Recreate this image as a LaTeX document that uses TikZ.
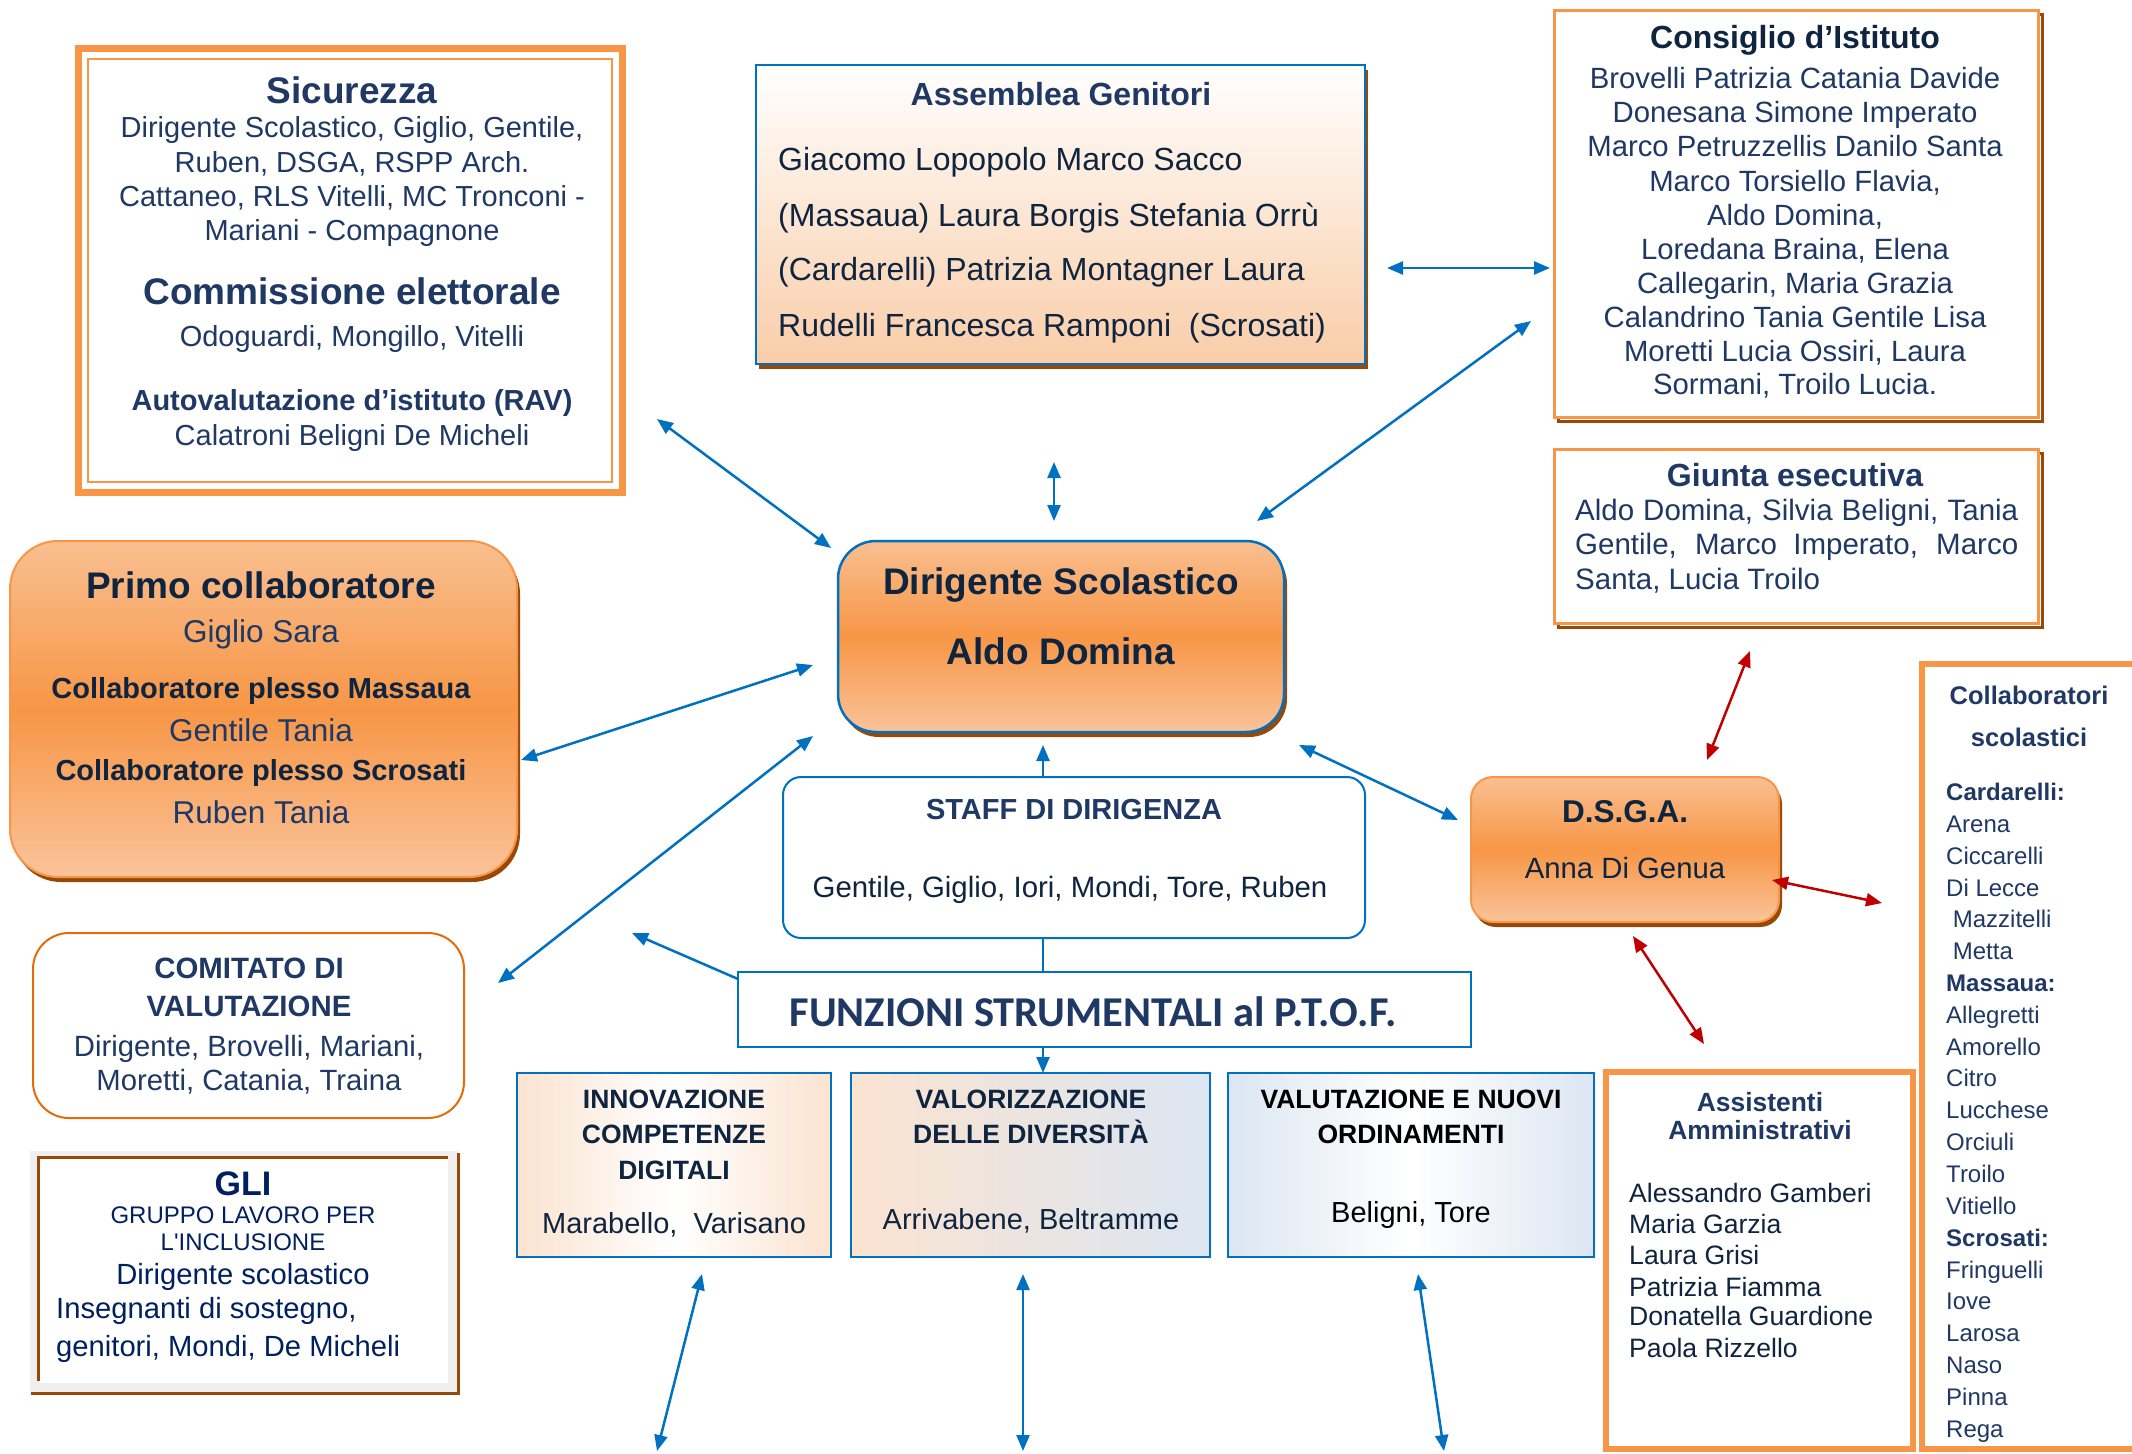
\documentclass[tikz,border=0pt]{standalone}
\usepackage{fontspec}
\setmainfont{Liberation Sans}
\newfontfamily\carl{Carlito}
\usetikzlibrary{arrows.meta,shadows,fit}
\definecolor{navy}{HTML}{1F3864}
\definecolor{navyd}{HTML}{0F243E}
\definecolor{glic}{HTML}{002060}
\definecolor{orA}{HTML}{F79646}
\definecolor{orB}{HTML}{E36C09}
\definecolor{pkA}{HTML}{F9BF90}
\definecolor{pkB}{HTML}{FAC39A}
\definecolor{pkC}{HTML}{F9CDA8}
\definecolor{pkD}{HTML}{FBE3D0}
\definecolor{lbl}{HTML}{DCE6F2}
\definecolor{brwn}{HTML}{984807}
\definecolor{blu}{HTML}{0070C0}
\definecolor{rd}{HTML}{C00000}
\definecolor{gryf}{HTML}{EFEFEF}
\newcommand\fs[1]{\fontsize{#1}{#1}\selectfont}
\newcommand\lines[4]{\foreach \yy/\tx [count=\i] in {#4} {\node[#2] (#1\i) at (#3,\yy) {\tx};}}
\tikzset{
  bx/.style={inner sep=0pt, outer sep=0pt},
  tc/.style={text=navy, inner sep=0pt, anchor=base},
  tw/.style={text=navy, inner sep=0pt, anchor=base west},
  orgrad/.style={top color=pkA, bottom color=pkB, middle color=orA},
  bshadow/.style={general shadow={fill=brwn, shadow xshift=3pt, shadow yshift=-5pt}},
  tip/.tip={Triangle[length=16pt,width=13pt]},
  arr/.style={draw=blu, line width=2.5pt, tip-tip},
  arrone/.style={draw=blu, line width=2.5pt, -tip},
  rarr/.style={draw=rd, line width=2.5pt, tip-tip},
}
\begin{document}
\begin{tikzpicture}[x=1pt,y=-1pt]
\useasboundingbox[fill=white] (0,0) rectangle (2132,1453);

% ---------- Sicurezza ----------
\node[bx, draw=orA, line width=7pt, fit={(78,49)(622,492)}] (sico) {};
\node[bx, draw=orA, line width=2pt, fit={(88,59)(612,482)}] (sic) {};
\node[tc, font=\bfseries\fs{37}] (sicT) at (352,103) {Sicurezza};
\lines{sicL}{tc, font=\fs{29}}{352}{138/{Dirigente Scolastico, Giglio, Gentile,}, 172/{Ruben, DSGA, RSPP Arch.}, 206/{Cattaneo, RLS Vitelli, MC Tronconi -}, 240/{Mariani - Compagnone}}
\node[tc, font=\bfseries\fs{37}] (comT) at (352,304) {Commissione elettorale};
\node[tc, font=\fs{29}] (comL) at (352,346) {Odoguardi, Mongillo, Vitelli};
\node[tc, font=\bfseries\fs{29}] (ravT) at (352,410) {Autovalutazione d’istituto (RAV)};
\node[tc, font=\fs{29}] (ravL) at (352,445) {Calatroni Beligni De Micheli};

% ---------- Assemblea Genitori ----------
\node[bx, draw=blu, line width=2.5pt, top color=white, bottom color=pkC, bshadow, fit={(756,65)(1365,364)}] (ass) {};
\node[tc, font=\bfseries\fs{32}] (assT) at (1061,106) {Assemblea Genitori};
\lines{assL}{tw, font=\fs{32}, text=navyd}{778}{170/{Giacomo Lopopolo Marco Sacco}, 226/{(Massaua) Laura Borgis Stefania Orrù}, 280/{(Cardarelli) Patrizia Montagner Laura}, 336/{Rudelli Francesca Ramponi\ \ (Scrosati)}}

% ---------- Consiglio d'Istituto ----------
\node[bx, draw=brwn, line width=3pt, fit={(1558,15)(2042,421)}] (consS) {};
\node[bx, draw=orA, line width=3pt, fill=white, fit={(1554,11)(2038,417)}] (cons) {};
\node[tc, font=\bfseries\fs{32}, text=navyd] (consT) at (1795,49) {Consiglio d’Istituto};
\lines{consL}{tc, font=\fs{29.3}}{1795}{89/{Brovelli Patrizia Catania Davide}, 123/{Donesana Simone Imperato}, 157/{Marco Petruzzellis Danilo Santa}, 191/{Marco Torsiello Flavia,}, 225/{Aldo Domina,}, 259/{Loredana Braina, Elena}, 293/{Callegarin, Maria Grazia}, 327/{Calandrino Tania Gentile Lisa}, 361/{Moretti Lucia Ossiri, Laura}, 394/{Sormani, Troilo Lucia.}}

% ---------- Giunta esecutiva ----------
\node[bx, draw=brwn, line width=3pt, fit={(1558,453)(2042,627)}] (giuS) {};
\node[bx, draw=orA, line width=3pt, fill=white, fit={(1554,449)(2038,623)}] (giu) {};
\node[tc, font=\bfseries\fs{32}] (giuT) at (1795,486) {Giunta esecutiva};
\node[tw, font=\fs{29.5}] (giu1) at (1575,520) {\makebox[443pt][s]{Aldo Domina, Silvia Beligni, Tania}};
\node[tw, font=\fs{29.5}] (giu2) at (1575,554) {\makebox[443pt][s]{Gentile, Marco Imperato, Marco}};
\node[tw, font=\fs{29.5}] (giu3) at (1575,589) {Santa, Lucia Troilo};

% ---------- Primo collaboratore ----------
\node[bx, draw=orA, line width=2pt, rounded corners=48pt, orgrad, bshadow, fit={(10,541)(517,877)}] (primo) {};
\node[tc, font=\bfseries\fs{37}, text=navyd] (primoT) at (261,598) {Primo collaboratore};
\node[tc, font=\fs{31.5}] (primo1) at (261,642) {Giglio Sara};
\node[tc, font=\bfseries\fs{29}, text=navyd] (primo2) at (261,698) {Collaboratore plesso Massaua};
\node[tc, font=\fs{31.5}] (primo3) at (261,741) {Gentile Tania};
\node[tc, font=\bfseries\fs{29}, text=navyd] (primo4) at (261,780) {Collaboratore plesso Scrosati};
\node[tc, font=\fs{31.5}] (primo5) at (261,823) {Ruben Tania};

% ---------- Dirigente ----------
\node[bx, draw=blu, line width=2.5pt, rounded corners=38pt, orgrad, bshadow, fit={(838,541)(1284,732)}] (dir) {};
\node[tc, font=\bfseries\fs{37}, text=navyd] (dirT) at (1061,594) {Dirigente Scolastico};
\node[tc, font=\bfseries\fs{37}, text=navyd] (dirN) at (1061,664) {Aldo Domina};

% ---------- Staff ----------
\node[bx, draw=blu, line width=2pt, rounded corners=18pt, fill=white, fit={(783,777)(1365,938)}] (staff) {};
\node[tc, font=\bfseries\fs{29}] (staffT) at (1074,819) {STAFF DI DIRIGENZA};
\node[tc, font=\fs{29.4}, text=navyd] (staffN) at (1070,897) {Gentile, Giglio, Iori, Mondi, Tore, Ruben};

% ---------- Funzioni ----------
\node[bx, draw=blu, line width=2pt, fill=white, fit={(738,972)(1471,1047)}] (fun) {};
\node[tc, font=\carl\bfseries\fs{42.5}] (funT) at (1093,1026) {FUNZIONI STRUMENTALI al P.T.O.F.};

% ---------- three FS boxes ----------
\node[bx, draw=blu, line width=2.5pt, left color=pkD, right color=pkD, middle color=white, fit={(517,1073)(831,1257)}] (fsA) {};
\lines{fsAL}{tc, font=\bfseries\fs{26.5}, text=navyd}{674}{1108/{INNOVAZIONE}, 1143/{COMPETENZE}, 1179/{DIGITALI}}
\node[tc, font=\fs{29}, text=navyd] (fsAN) at (674,1233) {Marabello,\ \ Varisano};

\node[bx, draw=blu, line width=2.5pt, left color=pkD, right color=lbl, fit={(851,1073)(1210,1257)}] (fsB) {};
\lines{fsBL}{tc, font=\bfseries\fs{26.5}, text=navyd}{1031}{1108/{VALORIZZAZIONE}, 1143/{DELLE DIVERSITÀ}}
\node[tc, font=\fs{29}, text=navyd] (fsBN) at (1031,1229) {Arrivabene, Beltramme};

\node[bx, draw=blu, line width=2.5pt, left color=lbl, right color=lbl, middle color=white, fit={(1228,1073)(1594,1257)}] (fsC) {};
\lines{fsCL}{tc, font=\bfseries\fs{26.5}, text=black}{1411}{1108/{VALUTAZIONE E NUOVI}, 1143/{ORDINAMENTI}}
\node[tc, font=\fs{29}, text=black] (fsCN) at (1411,1222) {Beligni, Tore};

% ---------- Comitato ----------
\node[bx, draw=orB, line width=2pt, rounded corners=36pt, fill=white, fit={(33,933)(464,1118)}] (comi) {};
\lines{comiT}{tc, font=\bfseries\fs{29.4}}{249}{978/{COMITATO DI}, 1016/{VALUTAZIONE}}
\lines{comiL}{tc, font=\fs{29.3}}{249}{1056/{Dirigente, Brovelli, Mariani,}, 1090/{Moretti, Catania, Traina}}

% ---------- GLI ----------
\node[bx, fill=gryf, fit={(30,1151)(458,1394)}] (gliF) {};
\node[bx, fill=white, fit={(40,1159)(448,1383)}] (gli) {};
\draw[brwn, line width=3pt] (38,1381) |- (448,1157);
\draw[brwn, line width=3pt] (458,1153) |- (31,1393);
\node[tc, font=\bfseries\fs{34}, text=glic] (gliT) at (243,1195) {GLI};
\lines{gliS}{tc, font=\fs{24}, text=glic}{243}{1223/{GRUPPO LAVORO PER}, 1250/{L\textquotesingle INCLUSIONE}}
\node[tc, font=\fs{29.2}, text=glic] (gliD) at (243,1284) {Dirigente scolastico};
\lines{gliL}{tw, font=\fs{29.2}, text=glic}{56}{1318/{Insegnanti di sostegno,}, 1356/{genitori, Mondi, De Micheli}}

% ---------- DSGA ----------
\node[bx, draw=orA, line width=2pt, rounded corners=22pt, orgrad, bshadow, fit={(1471,777)(1779,922)}] (dsga) {};
\node[tc, font=\bfseries\fs{31.5}, text=navyd] (dsgaT) at (1625,822) {D.S.G.A.};
\node[tc, font=\fs{29.3}, text=navyd] (dsgaN) at (1625,878) {Anna Di Genua};

% ---------- Assistenti ----------
\node[bx, draw=orA, line width=6pt, fill=white, fit={(1606,1072)(1913,1449)}] (assi) {};
\lines{assiT}{tc, font=\bfseries\fs{26.4}}{1760}{1111/{Assistenti}, 1139/{Amministrativi}}
\lines{assiL}{tw, font=\fs{26.6}, text=navyd}{1629}{1202/{Alessandro Gamberi}, 1233/{Maria Garzia}, 1264/{Laura Grisi}, 1296/{Patrizia Fiamma}, 1325/{Donatella Guardione}, 1357/{Paola Rizzello}}

% ---------- Collaboratori scolastici ----------
\node[bx, draw=orA, line width=6pt, fill=white, fit={(1922,664)(2150,1449)}] (col) {};
\lines{colT}{tc, font=\bfseries\fs{25.5}}{2029}{704/{Collaboratori}, 746/{scolastici}}
\lines{colL}{tw, font=\fs{24}}{1946}{800/{\bfseries Cardarelli:}, 832/{Arena}, 864/{Ciccarelli}, 896/{Di Lecce}, 927/{\ Mazzitelli}, 959/{\ Metta}, 991/{\bfseries Massaua:}, 1023/{Allegretti}, 1055/{Amorello}, 1086/{Citro}, 1118/{Lucchese}, 1150/{Orciuli}, 1182/{Troilo}, 1214/{Vitiello}, 1246/{\bfseries Scrosati:}, 1278/{Fringuelli}, 1309/{Iove}, 1341/{Larosa}, 1373/{Naso}, 1405/{Pinna}, 1437/{Rega}}

% ---------- connector end points ----------
\coordinate (sicE) at (657,419);   \coordinate (dirNW) at (831,548);
\coordinate (assE) at (1054,462);  \coordinate (dirN1) at (1054,521);
\coordinate (consE) at (1531,321); \coordinate (dirNE) at (1257,521);
\coordinate (assR) at (1387,268);  \coordinate (consW) at (1550,268);
\coordinate (primoE) at (521,760); \coordinate (dirW) at (813,665);
\coordinate (comiE) at (498,983);  \coordinate (dirSW) at (813,736);
\coordinate (dirSE) at (1299,745); \coordinate (dsgaW) at (1458,820);
\coordinate (giuS1) at (1750,651); \coordinate (dsgaN1) at (1707,760);
\coordinate (dsgaE) at (1772,880); \coordinate (colW) at (1882,903);
\coordinate (dsgaS) at (1633,936); \coordinate (assiN) at (1704,1044);
\coordinate (staffN1) at (1043,777); \coordinate (dirS) at (1043,745);
\coordinate (staffS) at (1043,938); \coordinate (funN) at (1043,972);
\coordinate (funS) at (1043,1047); \coordinate (fsBN1) at (1043,1073);
\coordinate (funW) at (738,979);   \coordinate (funWE) at (632,933);
\coordinate (fsAS) at (702,1274);  \coordinate (fsAE) at (657,1451);
\coordinate (fsBS) at (1023,1274); \coordinate (fsBE) at (1023,1451);
\coordinate (fsCS) at (1418,1274); \coordinate (fsCE) at (1444,1451);

% ---------- connectors ----------
\draw[arr] (sicE) -- (dirNW);
\draw[arr] (assE) -- (dirN1);
\draw[arr] (dirNE) -- (consE);
\draw[arr] (assR) -- (consW);
\draw[arr] (primoE) -- (dirW);
\draw[arr] (comiE) -- (dirSW);
\draw[arr] (dirSE) -- (dsgaW);
\draw[rarr] (giuS1) -- (dsgaN1);
\draw[rarr] (dsgaE) -- (colW);
\draw[rarr] (dsgaS) -- (assiN);
\draw[arrone] (staffN1) -- (dirS);
\draw[draw=blu, line width=2.5pt] (staffS) -- (funN);
\draw[arrone] (funS) -- (fsBN1);
\draw[arrone] (funW) -- (funWE);
\draw[arr] (fsAS) -- (fsAE);
\draw[arr] (fsBS) -- (fsBE);
\draw[arr] (fsCS) -- (fsCE);
\end{tikzpicture}
\end{document}
